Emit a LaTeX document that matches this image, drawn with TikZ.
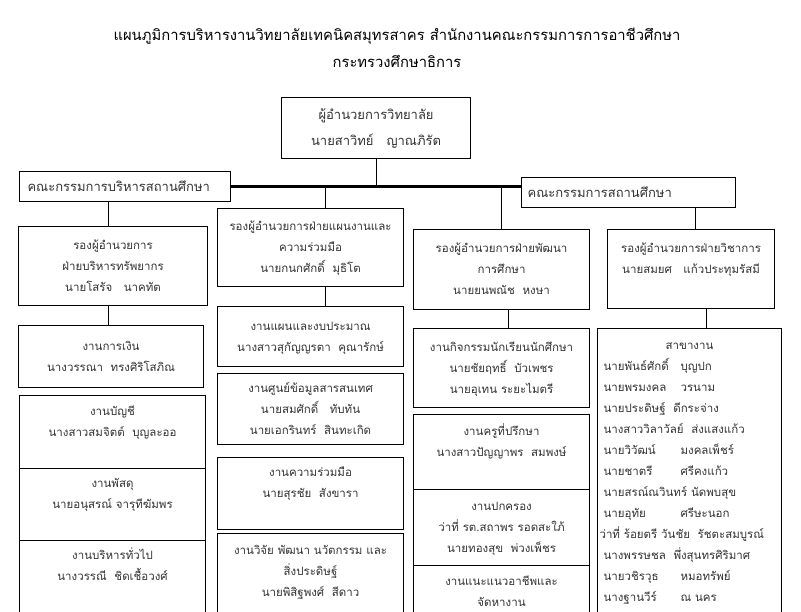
\documentclass[tikz,border=0pt]{standalone}
\usepackage{fontspec}
\newfontfamily\thaifont[Script=Thai]{Loma}
\newcommand\nm[2]{\makebox[77pt][l]{#1}#2}
\begin{document}
\begin{tikzpicture}[x=1pt,y=-1pt,
  box/.style 2 args={draw,line width=1.1pt,anchor=north west,inner sep=0pt,
    text width=#1,minimum height=#2,align=center,text=black!80,
    font=\thaifont\fontsize{11.5}{21}\selectfont,
    execute at begin node=\strut,execute at end node=\strut},
  cbox/.style 2 args={draw,line width=1.1pt,anchor=north west,inner ysep=0pt,
    inner xsep=#2,text width=#1,minimum height=30,align=left,text=black!80,
    font=\thaifont\fontsize{13}{21}\selectfont},
  conn/.style={line width=1pt}]
  \useasboundingbox (0,0) rectangle (801,611);
  \clip (0,0) rectangle (801,611);
  \fill[white] (0,0) rectangle (801,611);
  % title
  \node[align=center,font=\thaifont\fontsize{14.8}{27}\selectfont] (title) at (397,48)
    {แผนภูมิการบริหารงานวิทยาลัยเทคนิคสมุทรสาคร สำนักงานคณะกรรมการการอาชีวศึกษา\\
     กระทรวงศึกษาธิการ};
  % top
  \node[box={189}{61},font=\thaifont\fontsize{13}{21}\selectfont] (dir) at (281,97)
    {ผู้อำนวยการวิทยาลัย\\[5pt]นายสาวิทย์\quad ญาณภิรัต};
  \node[cbox={195}{8}] (lcomm) at (19,171) {คณะกรรมการบริหารสถานศึกษา};
  \node[cbox={202}{6}] (rcomm) at (521,177) {คณะกรรมการสถานศึกษา};
  % column 1
  \node[box={189}{79}] (c1) at (18,226)
    {รองผู้อำนวยการ\\ฝ่ายบริหารทรัพยากร\\นายโสรัจ\quad นาคทัต};
  \node[box={185}{62}] (c1a) at (18,325) {งานการเงิน\\นางวรรณา\ \ ทรงศิริโสภิณ};
  \node[box={186}{73}] (c1b) at (19,395) {งานบัญชี\\นางสาวสมจิตต์\ \ บุญละออ\\\mbox{}};
  \node[box={186}{72}] (c1c) at (19,468) {งานพัสดุ\\นายอนุสรณ์ จารุทีฆัมพร\\\mbox{}};
  \node[box={186}{93}] (c1d) at (19,540)
    {งานบริหารทั่วไป\\นางวรรณี\ \ ชิดเชื้อวงศ์\\\mbox{}\\\mbox{}};
  % column 2
  \node[box={186}{78}] (c2) at (217,208)
    {รองผู้อำนวยการฝ่ายแผนงานและ\\ความร่วมมือ\\นายกนกศักดิ์\ \ มุธิโต};
  \node[box={186}{60}] (c2a) at (217,306) {งานแผนและงบประมาณ\\นางสาวสุกัญญรตา\ \ คุณารักษ์};
  \node[box={186}{71}] (c2b) at (217,373)
    {งานศูนย์ข้อมูลสารสนเทศ\\นายสมศักดิ์\quad ทับทัน\\นายเอกรินทร์\ \ สินทะเกิด};
  \node[box={186}{72}] (c2c) at (217,457) {งานความร่วมมือ\\นายสุรชัย\ \ สังขารา\\\mbox{}};
  \node[box={186}{97}] (c2d) at (217,533)
    {งานวิจัย พัฒนา นวัตกรรม และ\\สิ่งประดิษฐ์\\นายพิสิฐพงศ์\ \ สีดาว\\\mbox{}};
  % column 3
  \node[box={176}{80}] (c3) at (413,229)
    {รองผู้อำนวยการฝ่ายพัฒนา\\การศึกษา\\นายยนพณัช\ \ หงษา};
  \node[box={176}{79}] (c3a) at (413,328)
    {งานกิจกรรมนักเรียนนักศึกษา\\นายชัยฤทธิ์\ \ บัวเพชร\\นายอุเทน ระยะไมตรี};
  \node[box={176}{75}] (c3b) at (413,414) {งานครูที่ปรึกษา\\นางสาวปัญญาพร\ \ สมพงษ์\\\mbox{}};
  \node[box={176}{76}] (c3c) at (413,489)
    {งานปกครอง\\ว่าที่ รต.สถาพร รอดสะใภ้\\นายทองสุข\ \ พ่วงเพ็ชร};
  \node[box={176}{95}] (c3d) at (413,565) {งานแนะแนวอาชีพและ\\จัดหางาน\\\mbox{}\\\mbox{}};
  % column 4
  \node[box={167}{79}] (c4) at (607,229)
    {รองผู้อำนวยการฝ่ายวิชาการ\\นายสมยศ\quad แก้วประทุมรัสมี\\\mbox{}};
  \node[box={184}{307},align=left] (c4a) at (597,328)
    {\hspace*{6pt}\makebox[172pt]{สาขางาน}\\
     \hspace*{6pt}\nm{นายพันธ์ศักดิ์}{บุญปก}\\
     \hspace*{6pt}\nm{นายพรมงคล}{วรนาม}\\
     \hspace*{6pt}นายประดิษฐ์\ \ ดีกระจ่าง\\
     \hspace*{6pt}นางสาววิลาวัลย์\ \ ส่งแสงแก้ว\\
     \hspace*{6pt}\nm{นายวิวัฒน์}{มงคลเพ็ชร์}\\
     \hspace*{6pt}\nm{นายชาตรี}{ศรีคงแก้ว}\\
     \hspace*{6pt}นายสรณ์ณวินทร์ นัดพบสุข\\
     \hspace*{6pt}\nm{นายอุทัย}{ศรีษะนอก}\\
     \hspace*{2pt}ว่าที่ ร้อยตรี วันชัย\ \ รัชตะสมบูรณ์\\
     \hspace*{6pt}นางพรรษชล\ \ พึ่งสุนทรศิริมาศ\\
     \hspace*{6pt}\nm{นายวชิรวุธ}{หมอทรัพย์}\\
     \hspace*{6pt}\nm{นางฐานวีร์}{ณ นคร}\\
     \mbox{}};
  % connectors
  \draw[line width=2.8pt] (lcomm.east) -- (lcomm.east -| rcomm.west);
  \draw[conn] (dir.south) -- (dir.south |- lcomm.east);
  \coordinate (k1) at ([xshift=-5pt]c1.north);
  \draw[conn] (lcomm.south -| k1) -- (k1);
  \draw[conn] (c1.south -| k1) -- (c1a.north -| k1);
  \coordinate (k2) at (325,186);
  \draw[conn] (k2) -- (k2 |- c2.north);
  \draw[conn] (c2.south -| k2) -- (c2a.north -| k2);
  \draw[conn] (c3.north |- lcomm.east) -- (c3.north);
  \coordinate (k3) at ([xshift=7pt]c3.south);
  \draw[conn] (k3) -- (k3 |- c3a.north);
  \coordinate (k4) at ([xshift=4pt]c4.north);
  \draw[conn] (k4 |- rcomm.south) -- (k4);
  \coordinate (k5) at ([xshift=15pt]c4.south);
  \draw[conn] (k5) -- (k5 |- c4a.north);
\end{tikzpicture}
\end{document}
